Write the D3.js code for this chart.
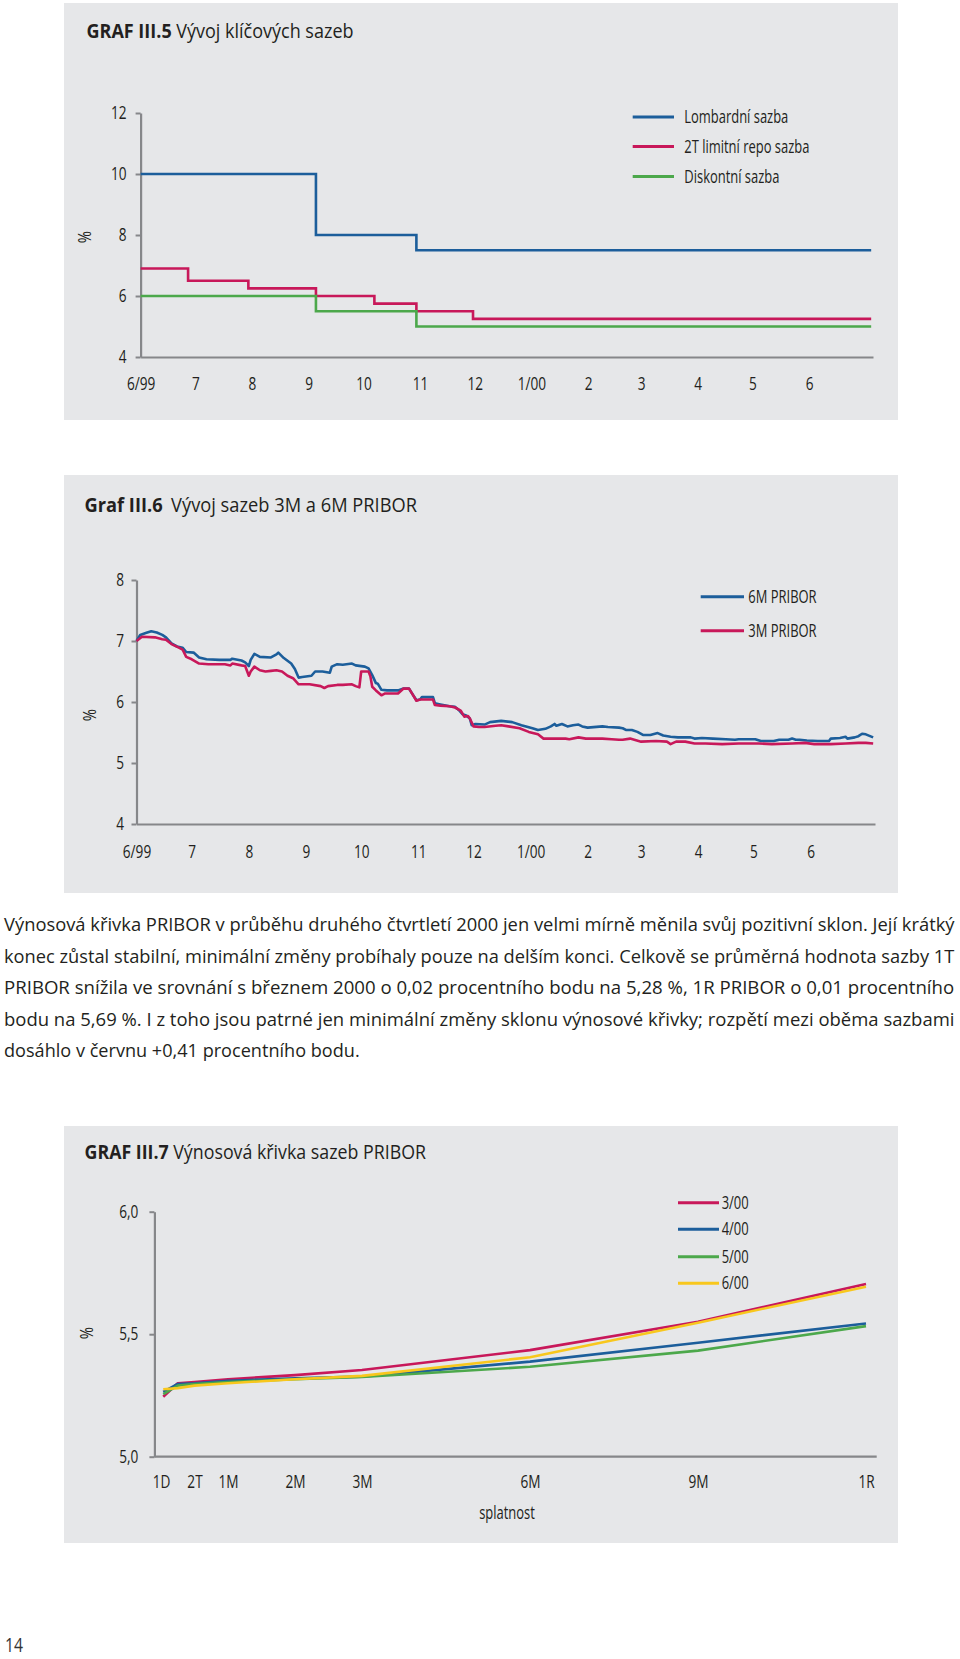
<!DOCTYPE html>
<html><head><meta charset="utf-8">
<script src="https://cdn.jsdelivr.net/npm/d3@7"></script>
<style>
html,body{margin:0;padding:0;background:#fff;}
svg text{font-family:"Open Sans","Noto Sans",sans-serif;}
</style></head>
<body><svg id="c" width="960" height="1659"></svg>
<script>
// ---------- DATA ----------
const monthTickDates = ["1999-06-01","1999-07-01","1999-08-01","1999-09-01","1999-10-01","1999-11-01","1999-12-01","2000-01-01","2000-02-01","2000-03-01","2000-04-01","2000-05-01","2000-06-01"];
const monthTickLabels = ["6/99","7","8","9","10","11","12","1/00","2","3","4","5","6"];

// Graf III.5 (step series: date of change, new level)
const lombardDates = ["1999-06-01","1999-09-05","1999-10-30","2000-07-05"];
const lombardValues = [10, 8, 7.5, 7.5];
const repoDates = ["1999-06-01","1999-06-27","1999-07-30","1999-09-05","1999-10-07","1999-10-30","1999-11-30","2000-07-05"];
const repoValues = [6.9, 6.5, 6.25, 6.0, 5.75, 5.5, 5.25, 5.25];
const discountDates = ["1999-06-01","1999-09-05","1999-10-30","2000-07-05"];
const discountValues = [6.0, 5.5, 5.0, 5.0];
const chart1Labels = ["Lombardní sazba","2T limitní repo sazba","Diskontní sazba"];
const chart1YTicks = [4,6,8,10,12];

// Graf III.6
const pribor6mDates = [
"1999-06-01","1999-06-03","1999-06-06","1999-06-09","1999-06-12","1999-06-15","1999-06-17","1999-06-20","1999-06-23","1999-06-26","1999-06-28",
"1999-07-02","1999-07-05","1999-07-09","1999-07-16","1999-07-22","1999-07-23","1999-07-28","1999-07-30",
"1999-08-01","1999-08-02","1999-08-04","1999-08-07","1999-08-13","1999-08-16","1999-08-17","1999-08-20","1999-08-24","1999-08-26","1999-08-28","1999-08-30",
"1999-09-04","1999-09-06","1999-09-10","1999-09-14","1999-09-15","1999-09-18","1999-09-21","1999-09-26","1999-09-28",
"1999-10-03","1999-10-05","1999-10-07","1999-10-09","1999-10-10","1999-10-12","1999-10-15","1999-10-21","1999-10-24","1999-10-27","1999-10-28","1999-10-31",
"1999-11-02","1999-11-03","1999-11-09","1999-11-10","1999-11-13","1999-11-18","1999-11-21","1999-11-23","1999-11-25","1999-11-27","1999-11-29","1999-11-30",
"1999-12-02","1999-12-07","1999-12-10","1999-12-16","1999-12-22","1999-12-27",
"2000-01-02","2000-01-05","2000-01-09","2000-01-12","2000-01-14","2000-01-15","2000-01-18","2000-01-21","2000-01-24","2000-01-27","2000-01-29",
"2000-02-01","2000-02-09","2000-02-12","2000-02-18","2000-02-20","2000-02-22","2000-02-25","2000-02-28",
"2000-03-02","2000-03-06","2000-03-10","2000-03-13","2000-03-17","2000-03-21","2000-03-28","2000-03-30",
"2000-04-03","2000-04-09","2000-04-16","2000-04-21","2000-04-23",
"2000-05-02","2000-05-05","2000-05-12","2000-05-15","2000-05-20","2000-05-22","2000-05-24","2000-05-26","2000-05-30",
"2000-06-05","2000-06-11","2000-06-12","2000-06-17","2000-06-20","2000-06-21","2000-06-25","2000-06-27","2000-06-29","2000-07-01","2000-07-05"];
const pribor6mValues = [
7.00,7.10,7.13,7.16,7.14,7.10,7.06,6.96,6.91,6.89,6.82,
6.81,6.73,6.70,6.69,6.69,6.71,6.68,6.65,
6.59,6.69,6.79,6.74,6.73,6.78,6.81,6.72,6.63,6.54,6.40,6.41,
6.43,6.50,6.50,6.48,6.58,6.62,6.61,6.63,6.60,
6.58,6.55,6.44,6.31,6.30,6.20,6.19,6.19,6.22,6.22,6.17,6.03,
6.04,6.08,6.08,5.98,5.96,5.93,5.92,5.87,5.80,5.78,5.73,5.62,
5.64,5.63,5.67,5.69,5.67,5.62,
5.57,5.54,5.56,5.60,5.64,5.61,5.64,5.60,5.62,5.63,5.60,
5.58,5.60,5.59,5.58,5.57,5.54,5.54,5.51,
5.46,5.46,5.49,5.45,5.43,5.42,5.42,5.40,
5.41,5.40,5.39,5.38,5.39,
5.39,5.36,5.36,5.38,5.38,5.40,5.38,5.38,5.37,
5.36,5.36,5.40,5.41,5.43,5.40,5.42,5.44,5.48,5.47,5.42];
const pribor3mDates = [
"1999-06-01","1999-06-04","1999-06-11","1999-06-15","1999-06-17","1999-06-20","1999-06-24","1999-06-26","1999-06-28",
"1999-07-01","1999-07-05","1999-07-10","1999-07-19","1999-07-22","1999-07-23","1999-07-28","1999-07-30",
"1999-08-01","1999-08-02","1999-08-04","1999-08-07","1999-08-10","1999-08-13","1999-08-16","1999-08-19","1999-08-22","1999-08-25","1999-08-28",
"1999-09-03","1999-09-09","1999-09-11","1999-09-13","1999-09-18","1999-09-21","1999-09-26","1999-09-28","1999-09-30",
"1999-10-01","1999-10-05","1999-10-06","1999-10-07","1999-10-09","1999-10-12","1999-10-14","1999-10-21","1999-10-24","1999-10-27","1999-10-28","1999-10-31",
"1999-11-02","1999-11-09","1999-11-10","1999-11-13","1999-11-18","1999-11-21","1999-11-24","1999-11-26","1999-11-28","1999-11-29",
"1999-12-01","1999-12-04","1999-12-07","1999-12-13","1999-12-16","1999-12-20","1999-12-26","1999-12-31",
"2000-01-05","2000-01-08","2000-01-14","2000-01-20","2000-01-22","2000-01-27","2000-01-31",
"2000-02-09","2000-02-14","2000-02-18","2000-02-20","2000-02-24",
"2000-03-01","2000-03-09","2000-03-15","2000-03-17","2000-03-20","2000-03-25","2000-03-30",
"2000-04-05","2000-04-14","2000-04-23",
"2000-05-04","2000-05-11","2000-05-22","2000-05-29",
"2000-06-03","2000-06-12","2000-06-20","2000-06-27","2000-07-01","2000-07-05"];
const pribor3mValues = [
7.00,7.07,7.06,7.03,7.02,6.95,6.89,6.86,6.74,
6.70,6.63,6.62,6.62,6.60,6.63,6.60,6.59,
6.43,6.50,6.58,6.52,6.50,6.51,6.52,6.50,6.43,6.39,6.29,
6.29,6.26,6.23,6.26,6.28,6.28,6.29,6.26,6.24,
6.50,6.50,6.42,6.25,6.19,6.11,6.14,6.14,6.22,6.22,6.17,6.02,
6.04,6.04,5.95,5.94,5.93,5.91,5.86,5.76,5.77,5.73,
5.60,5.59,5.59,5.61,5.62,5.60,5.57,5.51,
5.47,5.40,5.40,5.40,5.39,5.42,5.40,
5.40,5.39,5.38,5.38,5.40,
5.35,5.36,5.35,5.31,5.35,5.35,5.32,
5.32,5.31,5.32,
5.32,5.31,5.32,5.33,
5.31,5.31,5.32,5.33,5.33,5.32];
const chart2Labels = ["6M PRIBOR","3M PRIBOR"];
const chart2YTicks = [4,5,6,7,8];

// Graf III.7
const tenorMonths = [1/30, 0.25, 0.5, 1, 2, 3, 6, 9, 12];
const curveMar00 = [5.245, 5.30, 5.305, 5.316, 5.333, 5.354, 5.435, 5.551, 5.705];
const curveApr00 = [5.265, 5.297, 5.30, 5.31, 5.32, 5.327, 5.388, 5.465, 5.544];
const curveMay00 = [5.255, 5.29, 5.297, 5.305, 5.316, 5.325, 5.367, 5.433, 5.533];
const curveJun00 = [5.275, 5.28, 5.29, 5.30, 5.316, 5.33, 5.406, 5.547, 5.694];
const curveLabels = ["3/00","4/00","5/00","6/00"];
const tenorTickMonths = [0, 0.5, 1, 2, 3, 6, 9, 12];
const tenorTickLabels = ["1D","2T","1M","2M","3M","6M","9M","1R"];
const chart3YTicks = [5.0, 5.5, 6.0];

const paragraphLines = [
"Výnosová křivka PRIBOR v průběhu druhého čtvrtletí 2000 jen velmi mírně měnila svůj pozitivní sklon. Její krátký",
"konec zůstal stabilní, minimální změny probíhaly pouze na delším konci. Celkově se průměrná hodnota sazby 1T",
"PRIBOR snížila ve srovnání s březnem 2000 o 0,02 procentního bodu na 5,28 %, 1R PRIBOR o 0,01 procentního",
"bodu na 5,69 %. I z toho jsou patrné jen minimální změny sklonu výnosové křivky; rozpětí mezi oběma sazbami",
"dosáhlo v červnu +0,41 procentního bodu."];

// ---------- STYLE ----------
const BG = "#e6e7e9", AX = "#86878a", TXT = "#231f20";
const C_BLUE = "#1c5e9b", C_RED = "#c8185a", C_GREEN = "#4ca84b", C_YEL = "#f8c71d";
const SQ = 0.78; // horizontal condensing of glyphs
const FS = 17.5;  // tick / legend font size
const parse = d3.timeParse("%Y-%m-%d");
const svg = d3.select("#c");

function condense(sel, f) {
  sel.each(function () {
    const w = this.getComputedTextLength();
    this.setAttribute("textLength", (w * f).toFixed(1));
    this.setAttribute("lengthAdjust", "spacingAndGlyphs");
  });
}
function fit(sel, w) { sel.attr("textLength", w).attr("lengthAdjust", "spacingAndGlyphs"); }

function panel(x, y, w, h) {
  svg.append("rect").attr("x", x).attr("y", y).attr("width", w).attr("height", h).attr("fill", BG);
}
function title(x, y, bold, rest, width, gap) {
  const t = svg.append("text").attr("x", x).attr("y", y).attr("font-size", 19.5).attr("fill", TXT);
  t.append("tspan").attr("font-weight", 700).text(bold);
  t.append("tspan").attr("dx", gap).text(rest);
  fit(t, width);
}
function styleAxis(g) {
  g.attr("font-family", null).attr("font-size", null);
  g.select(".domain").attr("stroke", AX).attr("stroke-width", 2.2);
  g.selectAll(".tick line").attr("stroke", AX).attr("stroke-width", 2);
  g.selectAll(".tick text").attr("fill", TXT).attr("font-size", FS);
  condense(g.selectAll(".tick text"), SQ);
}
function yLabel(x, y) {
  const t = svg.append("text").attr("transform", `translate(${x},${y}) rotate(-90)`)
    .attr("text-anchor", "middle").attr("font-size", FS).attr("fill", TXT).text("%");
  condense(t, 0.85);
}
function legend(items, x1, x2, tx, ys, sw) {
  items.forEach((it, i) => {
    svg.append("line").attr("x1", x1).attr("x2", x2).attr("y1", ys[i]).attr("y2", ys[i])
      .attr("stroke", it.color).attr("stroke-width", sw);
    const t = svg.append("text").attr("x", tx).attr("y", ys[i] + 6).attr("font-size", FS)
      .attr("fill", TXT).text(it.label);
    condense(t, SQ - 0.04);
  });
}
const intFmt = d3.format("d");

// ---------- GRAF III.5 ----------
panel(64, 3, 834, 417);
title(86.5, 38, "GRAF III.5", "Vývoj klíčových sazeb", 267, 5);
{
  const x = d3.scaleTime().domain([parse("1999-06-01"), parse("2000-07-06")]).range([140.6, 873]);
  const y = d3.scaleLinear().domain([4, 12]).range([357, 113]);
  const gy = svg.append("g").attr("transform", "translate(140.6,0)")
    .call(d3.axisLeft(y).tickValues(chart1YTicks).tickFormat(intFmt).tickSize(5).tickPadding(9).tickSizeOuter(0));
  styleAxis(gy);
  const gx = svg.append("g").attr("transform", "translate(0,357)")
    .call(d3.axisBottom(x).tickValues(monthTickDates.map(parse)).tickSize(0).tickPadding(20.5)
      .tickFormat((d, i) => monthTickLabels[i]).tickSizeOuter(0));
  styleAxis(gx);
  const line = d3.line().x(d => x(d[0])).y(d => y(d[1])).curve(d3.curveStepAfter);
  const series = [
    { dates: lombardDates, values: lombardValues, color: C_BLUE },
    { dates: repoDates, values: repoValues, color: C_RED },
    { dates: discountDates, values: discountValues, color: C_GREEN }];
  series.forEach(s => {
    svg.append("path").datum(s.dates.map((d, i) => [parse(d), s.values[i]]))
      .attr("d", line).attr("fill", "none").attr("stroke", s.color).attr("stroke-width", 2.6)
      .attr("stroke-linejoin", "miter");
  });
  yLabel(91, 237);
  legend(series.map((s, i) => ({ color: s.color, label: chart1Labels[i] })), 632.7, 674, 684.3, [117, 146.5, 176.5], 3);
}

// ---------- GRAF III.6 ----------
panel(64, 475, 834, 418);
title(84.5, 511.7, "Graf III.6", "Vývoj sazeb 3M a 6M PRIBOR", 332.5, 9);
{
  const x = d3.scaleTime().domain([parse("1999-06-01"), parse("2000-07-06")]).range([136.5, 875]);
  const y = d3.scaleLinear().domain([4, 8]).range([824, 580]);
  const gy = svg.append("g").attr("transform", "translate(136.5,0)")
    .call(d3.axisLeft(y).tickValues(chart2YTicks).tickFormat(intFmt).tickSize(5).tickPadding(7.5).tickSizeOuter(0));
  styleAxis(gy);
  const gx = svg.append("g").attr("transform", "translate(0,824)")
    .call(d3.axisBottom(x).tickValues(monthTickDates.map(parse)).tickSize(0).tickPadding(22)
      .tickFormat((d, i) => monthTickLabels[i]).tickSizeOuter(0));
  styleAxis(gx);
  const line = d3.line().x(d => x(d[0])).y(d => y(d[1]));
  const series = [
    { dates: pribor6mDates, values: pribor6mValues, color: C_BLUE },
    { dates: pribor3mDates, values: pribor3mValues, color: C_RED }];
  series.forEach(s => {
    svg.append("path").datum(s.dates.map((d, i) => [parse(d), s.values[i]]))
      .attr("d", line).attr("fill", "none").attr("stroke", s.color).attr("stroke-width", 2.6)
      .attr("stroke-linejoin", "round");
  });
  yLabel(96, 715);
  legend(series.map((s, i) => ({ color: s.color, label: chart2Labels[i] })), 700.7, 744, 748.3, [596.7, 630.7], 3);
}

// ---------- Paragraph (each line scaled horizontally to the justified width) ----------
paragraphLines.forEach((ln, i) => {
  const target = i < paragraphLines.length - 1 ? 951 : 356;
  const t = svg.append("text").attr("x", 0).attr("y", 0).attr("font-size", 19)
    .attr("fill", TXT).text(ln);
  const w = t.node().getComputedTextLength();
  t.attr("transform", `translate(4,${931 + i * 31.6}) scale(${(target / w).toFixed(4)},1)`);
});

// ---------- GRAF III.7 ----------
panel(64, 1126, 834, 417);
title(84.5, 1159, "GRAF III.7", "Výnosová křivka sazeb PRIBOR", 341.5, 5);
{
  const x = d3.scaleLinear().domain([0, 3, 12]).range([161, 362, 866]);
  const y = d3.scaleLinear().domain([5, 6]).range([1456.7, 1211.7]);
  const gy = svg.append("g").attr("transform", "translate(154.4,0)")
    .call(d3.axisLeft(y).tickValues(chart3YTicks).tickSize(5).tickPadding(11).tickSizeOuter(0)
      .tickFormat(d => d3.format(".1f")(d).replace(".", ",")));
  styleAxis(gy);
  const gx = svg.append("g").attr("transform", "translate(0,1456.7)")
    .call(d3.axisBottom(x).tickValues(tenorTickMonths).tickSize(0).tickPadding(18.5)
      .tickFormat((d, i) => tenorTickLabels[i]).tickSizeOuter(0));
  gx.select(".domain").attr("d", "M154.4,0H876.7");
  styleAxis(gx);
  const line = d3.line().x(d => x(d[0])).y(d => y(d[1]));
  const series = [
    { values: curveMar00, color: C_RED },
    { values: curveApr00, color: C_BLUE },
    { values: curveMay00, color: C_GREEN },
    { values: curveJun00, color: C_YEL }];
  series.forEach(s => {
    svg.append("path").datum(tenorMonths.map((m, i) => [m, s.values[i]]))
      .attr("d", line).attr("fill", "none").attr("stroke", s.color).attr("stroke-width", 2.6)
      .attr("stroke-linejoin", "round");
  });
  yLabel(93, 1333);
  const st = svg.append("text").attr("x", 507).attr("y", 1518.5).attr("text-anchor", "middle")
    .attr("font-size", FS).attr("fill", TXT).text("splatnost");
  condense(st, SQ - 0.04);
  legend(series.map((s, i) => ({ color: s.color, label: curveLabels[i] })), 678, 719, 721.7, [1202.7, 1229.3, 1256.7, 1283.3], 3);
}

// page number
const pn = svg.append("text").attr("x", 5).attr("y", 1652).attr("font-size", 20).attr("fill", "#333").text("14");
fit(pn, 18);
</script>
</body></html>
